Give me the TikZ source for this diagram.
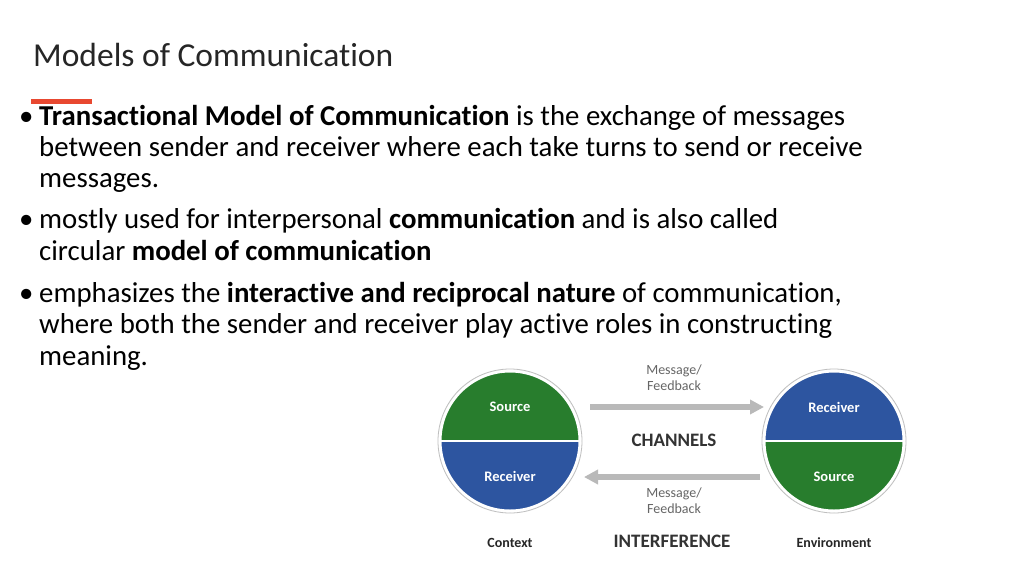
\documentclass[tikz,border=0pt]{standalone}
\usepackage{fontspec}
\setmainfont{Carlito}[RawFeature=-liga]
\usetikzlibrary{arrows.meta}
\definecolor{grn}{RGB}{40,125,45}
\definecolor{blu}{RGB}{45,85,160}
\definecolor{redbar}{RGB}{232,72,48}
\tikzset{
  ln/.style={anchor=base west,inner sep=0pt,font=\fontsize{28.8}{32}\selectfont},
  bul/.style={anchor=base west,inner sep=0pt,font=\fontsize{28.8}{32}\selectfont},
  lab/.style={font=\bfseries\fontsize{14.5}{16}\selectfont,white},
  small/.style={font=\fontsize{14}{16}\selectfont,gray!80!black,align=center},
  big/.style={font=\bfseries\fontsize{19}{21}\selectfont,black!80},
  under/.style={font=\bfseries\fontsize{14}{16}\selectfont,black!85},
  garrow/.style={line width=6pt,gray!55,-{Triangle[length=14pt,width=14pt]}}
}
\begin{document}
\begin{tikzpicture}[x=1pt,y=-1pt]
\useasboundingbox[fill=white] (0,0) rectangle (1024,574);
\node[anchor=base west,inner sep=0pt,font=\fontsize{33.5}{38}\selectfont,black!85] (title) at (33,66) {Models of Communication};
\fill[redbar] (31,99) rectangle (92,104);
\node[bul] (b1) at (19,125) {•};
\node[ln] (l1) at (39,125) {\textbf{Transactional Model of Communication} is the exchange of messages};
\node[ln] (l2) at (39,156) {between sender and receiver where each take turns to send or receive};
\node[ln] (l3) at (39,187) {messages.};
\node[bul] (b2) at (19,228) {•};
\node[ln] (l4) at (39,228) {mostly used for interpersonal \textbf{communication} and is also called};
\node[ln] (l5) at (39,260) {circular \textbf{model of communication}};
\node[bul] (b3) at (19,302) {•};
\node[ln] (l6) at (39,302) {emphasizes the \textbf{interactive and reciprocal nature} of communication,};
\node[ln] (l7) at (39,333) {where both the sender and receiver play active roles in constructing};
\node[ln] (l8) at (39,365) {meaning.};
% left circle
\coordinate (cl) at (510,441);
\fill[grn] (cl) ++(-71,0) arc[start angle=180,end angle=360,radius=71] -- cycle;
\fill[blu] (cl) ++(-71,0) arc[start angle=180,end angle=0,radius=71] -- cycle;
\draw[white,line width=2.5pt] (cl) ++(-71,0) -- ++(142,0);
\draw[white,line width=3pt] (cl) circle[radius=70];
\draw[gray!50,line width=0.8pt] (cl) circle[radius=72];
\node[lab] (ls) at (510,407) {Source};
\node[lab] (lr) at (510,476) {Receiver};
% right circle
\coordinate (cr) at (834,441);
\fill[blu] (cr) ++(-71,0) arc[start angle=180,end angle=360,radius=71] -- cycle;
\fill[grn] (cr) ++(-71,0) arc[start angle=180,end angle=0,radius=71] -- cycle;
\draw[white,line width=2.5pt] (cr) ++(-71,0) -- ++(142,0);
\draw[white,line width=3pt] (cr) circle[radius=70];
\draw[gray!50,line width=0.8pt] (cr) circle[radius=72];
\node[lab] (rr) at (834,407) {Receiver};
\node[lab] (rs) at (834,477) {Source};
% arrows
\coordinate (a1s) at (590,407); \coordinate (a1e) at (764,407);
\coordinate (a2s) at (760,477); \coordinate (a2e) at (584,477);
\draw[garrow] (a1s) -- (a1e);
\draw[garrow] (a2s) -- (a2e);
\node[small] (m1) at (674,378) {Message/\\Feedback};
\node[small] (m2) at (674,501) {Message/\\Feedback};
\node[big] (ch) at (674,440) {CHANNELS};
\node[under] (ctx) at (510,543) {Context};
\node[big] (intf) at (672,541) {INTERFERENCE};
\node[under] (env) at (834,543) {Environment};
\end{tikzpicture}
\end{document}
